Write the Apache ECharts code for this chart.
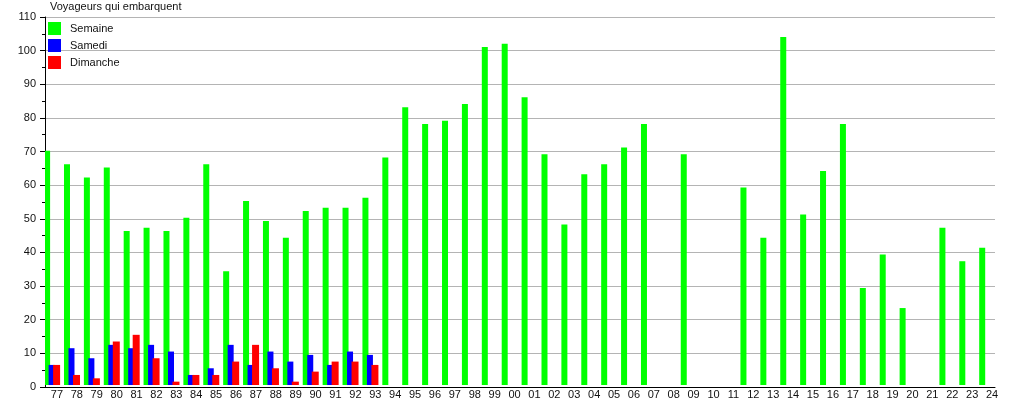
<!DOCTYPE html>
<html>
<head>
<meta charset="utf-8">
<script src="https://cdn.jsdelivr.net/npm/echarts@6/dist/echarts.min.js"></script>
<style>
html,body{margin:0;padding:0;background:#fff;}
#c{width:1015px;height:400px;}
</style>
</head>
<body>
<div id="c"></div>
<script>
const years = ['77','78','79','80','81','82','83','84','85','86','87','88','89','90','91','92','93','94','95','96','97','98','99','00','01','02','03','04','05','06','07','08','09','10','11','12','13','14','15','16','17','18','19','20','21','22','23','24'];
const semaine = [70,66,62,65,46,47,46,50,66,34,55,49,44,52,53,53,56,68,83,78,79,84,101,102,86,69,48,63,66,71,78,null,69,null,null,59,44,104,51,64,78,29,39,23,null,47,37,41];
const samedi = [6,11,8,12,11,12,10,3,5,12,6,10,7,9,6,10,9];
const dimanche = [6,3,2,13,15,8,1,3,3,7,12,5,1,4,7,7,6];
const yTicks = [0,10,20,30,40,50,60,70,80,90,100,110];

const font = 'Liberation Sans, Arial, sans-serif';
const chart = echarts.init(document.getElementById('c'), null, {renderer:'canvas'});
const barCommon = {type:'bar', xAxisIndex:1, yAxisIndex:1, barGap:'-25%', animation:false};
chart.setOption({
  animation:false,
  backgroundColor:'#fff',
  title:{text:'Voyageurs qui embarquent', left:50, top:1, padding:0,
    textStyle:{fontFamily:font, fontSize:11, fontWeight:'normal', color:'#111'}},
  legend:{orient:'vertical', left:48, top:22, padding:0, itemWidth:13, itemHeight:13, itemGap:4,
    icon:'rect', data:['Semaine','Samedi','Dimanche'],
    textStyle:{fontFamily:font, fontSize:11, color:'#111', padding:[0,0,0,4]}},
  grid:[
    {left:45, right:20, top:17, bottom:13},
    {left:45, width:955, top:17, bottom:13}
  ],
  xAxis:[
    {type:'category', gridIndex:0, data:years, boundaryGap:true,
     axisLine:{lineStyle:{color:'#000', width:1}}, axisTick:{show:false}, axisLabel:{show:false}, splitLine:{show:false}},
    {type:'category', gridIndex:1, data:years, boundaryGap:true,
     axisLine:{show:false}, axisTick:{show:false}, splitLine:{show:false},
     axisLabel:{interval:0, margin:4, fontFamily:font, fontSize:11, color:'#111', padding:[0,0,0,4]}}
  ],
  yAxis:[
    {type:'value', gridIndex:0, min:yTicks[0], max:yTicks[yTicks.length-1], interval:10,
     axisLine:{show:true, lineStyle:{color:'#000', width:1}},
     axisTick:{show:true, inside:false, length:5, lineStyle:{color:'#000'}},
     minorTick:{show:true, splitNumber:2, length:3, lineStyle:{color:'#000'}},
     axisLabel:{margin:9, fontFamily:font, fontSize:11, color:'#111'},
     splitLine:{show:true, lineStyle:{color:'#b4b4b4', width:1}}},
    {type:'value', gridIndex:1, min:yTicks[0], max:yTicks[yTicks.length-1], interval:10, show:false,
     splitLine:{show:false}}
  ],
  series:[
    Object.assign({name:'Semaine', data:semaine, barWidth:6, itemStyle:{color:'#00ff00'}}, barCommon),
    Object.assign({name:'Samedi', data:samedi, barWidth:6, itemStyle:{color:'#0000ff'}}, barCommon),
    Object.assign({name:'Dimanche', data:dimanche, barWidth:7, itemStyle:{color:'#ff0000'}}, barCommon),
    Object.assign({name:'spacer', data:[], barWidth:7.45, silent:true, itemStyle:{color:'rgba(0,0,0,0)'}}, barCommon)
  ]
});
</script>
</body>
</html>
